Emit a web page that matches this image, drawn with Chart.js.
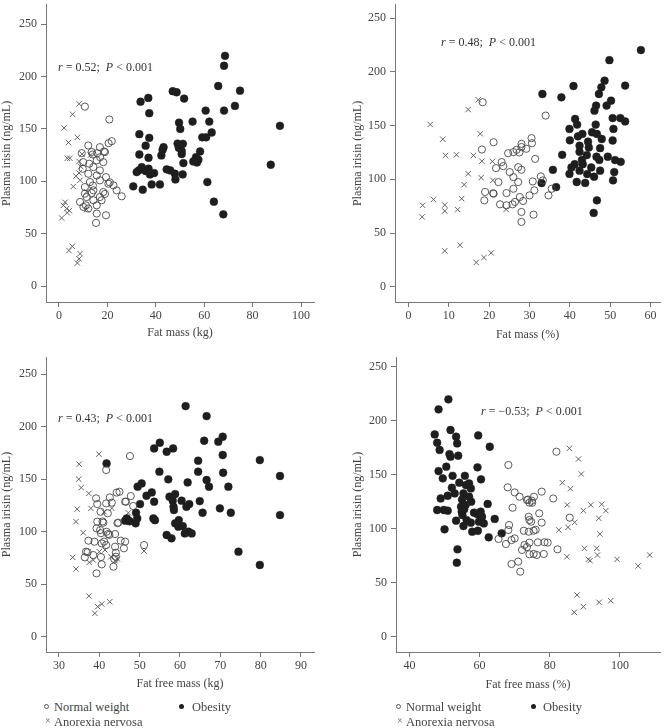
<!DOCTYPE html>
<html>
<head>
<meta charset="utf-8">
<script src="https://cdn.jsdelivr.net/npm/chart.js@4.4.1/dist/chart.umd.min.js"></script>
<style>
    body { margin: 0; background: #fff; }
    #page { position: relative; width: 665px; height: 728px; overflow: hidden; font-family: 'Liberation Serif', 'DejaVu Serif', serif; color: #444; }
    canvas { position: absolute; }
    .note { position: absolute; font-size: 12px; line-height: 14px; white-space: nowrap; color: #333; }
    .legend-item { position: absolute; font-size: 12.5px; line-height: 14px; white-space: nowrap; color: #444; }
    .mk { position: absolute; top: 4px; width: 5px; height: 5px; border-radius: 50%; box-sizing: border-box; }
    .mk-open { border: 1px solid #555; }
    .mk-fill { background: #222; }
    .mk-x { position: absolute; top: -1px; font-size: 10px; color: #555; }
</style>
</head>
<body>
<div id="page">
    <canvas id="c1" width="332" height="340" style="left:0;top:0"></canvas>
    <canvas id="c2" width="314" height="342" style="left:351px;top:0"></canvas>
    <canvas id="c3" width="332" height="361" style="left:0;top:330px"></canvas>
    <canvas id="c4" width="314" height="362" style="left:351px;top:330px"></canvas>

    <div class="note" style="left:58px;top:60px"><i>r</i> = 0.52;&nbsp; <i>P</i> &lt; 0.001</div>
    <div class="note" style="left:441px;top:35px"><i>r</i> = 0.48;&nbsp; <i>P</i> &lt; 0.001</div>
    <div class="note" style="left:58px;top:411px"><i>r</i> = 0.43;&nbsp; <i>P</i> &lt; 0.001</div>
    <div class="note" style="left:481px;top:404px"><i>r</i> = &minus;0.53;&nbsp; <i>P</i> &lt; 0.001</div>

    <div class="legend-item" style="left:44px;top:700px"><span class="mk mk-open" style="left:0"></span><span style="margin-left:10px">Normal weight</span></div>
    <div class="legend-item" style="left:179px;top:700px"><span class="mk mk-fill" style="left:0"></span><span style="margin-left:13px">Obesity</span></div>
    <div class="legend-item" style="left:44px;top:715px"><span class="mk-x" style="left:1px">×</span><span style="margin-left:10px">Anorexia nervosa</span></div>

    <div class="legend-item" style="left:396px;top:700px"><span class="mk mk-open" style="left:0"></span><span style="margin-left:10px">Normal weight</span></div>
    <div class="legend-item" style="left:531px;top:700px"><span class="mk mk-fill" style="left:0"></span><span style="margin-left:12px">Obesity</span></div>
    <div class="legend-item" style="left:396px;top:715px"><span class="mk-x" style="left:1px">×</span><span style="margin-left:10px">Anorexia nervosa</span></div>
</div>

<script>
// 데이터 (x, 혈장 irisin ng/mL)

// 1) Fat mass (kg)
const fatKgNormal = [[10.7,171.3],[20.8,159],[21.8,138.3],[12.1,134.2],[16.9,132.6],[13.9,125.6],[18.6,128.5],[15.8,126.9],[9.4,126.9],[20.5,136.4],[19,127.9],[10,118.3],[12.5,116.8],[15.6,120],[18.3,118.3],[14.2,113.6],[16.9,110.4],[9.8,112],[12.1,107.2],[15.6,105.6],[19.4,104],[12.8,99.3],[16.9,100.9],[20.4,97.7],[22.5,96.1],[10.7,94.5],[14.2,91.4],[23.8,91.4],[25.9,85.7],[10.7,88.2],[13.5,88.8],[18.3,89.8],[16.9,85],[19,88],[11.4,85],[8.7,80.3],[14.2,81.9],[17.6,81.9],[11.1,77.1],[15.6,77.1],[10.1,75.5],[12.1,74],[15.6,69.2],[19.4,67.6],[15.3,60.3],[13.5,128],[17,123],[21,99],[14,96]];
const fatKgObesity = [[68.6,219.8],[68.2,210.3],[65.8,191],[74.8,186.5],[47,186],[48.6,185],[51.7,179],[36.9,179.6],[33.7,176],[72.7,172],[68.2,167.5],[60.6,167.5],[37.3,165],[55.2,157],[49.6,156],[62.1,157],[91.3,153],[50.1,150],[59.2,142],[33.2,145],[37.3,141.5],[63.1,146.6],[35.8,134],[43.2,132.6],[42.8,130],[49,136],[51.2,135.8],[50.7,129],[58.3,128.5],[33.2,125.6],[37,122.5],[42.3,124.7],[50.7,126],[56.6,123],[57.6,120.6],[55.5,119],[51.4,117.4],[87.5,115.8],[32.1,108.8],[34.2,113.6],[35.8,109.8],[33,110.5],[37,112],[37.6,106.6],[39.3,107.9],[44.5,111.4],[46,110.4],[47.9,107.2],[51.1,106.6],[48.1,101.8],[61.3,99.3],[30.7,95.2],[38.3,97],[41.7,97],[34.6,92],[64,80.6],[67.9,68.5],[60.8,142],[49.5,132],[57,118]];
const fatKgAnorexia = [[8.3,174],[5.6,164],[2.1,151],[7.6,142],[3.9,137],[3.4,122],[4.5,122],[8.3,119],[9,114],[8.3,108],[7,105],[8.7,101],[5.9,95],[2.5,80],[1.8,77],[3.2,74],[4.3,72],[1.1,65],[11.4,73],[11.4,90],[5.5,38],[4.1,34],[8.7,31],[8.3,26],[7.6,22],[3.4,70],[9.5,126],[13,125]];

// 2) Fat mass (%)
const fatPctNormal = [[18.4,171.7],[34,159.3],[18.2,127.7],[21.1,134.5],[30.5,138.3],[28,130],[26.8,127.4],[26,125.3],[24.7,124.3],[29.2,128.4],[30.6,133.6],[28,133],[23.1,116],[23.5,112.3],[31.4,119],[21.7,110.4],[27.2,111.3],[28,108.9],[25.1,106.7],[26,102],[22.3,97.4],[32.8,102.7],[27.2,97.4],[30.8,98],[33.3,99],[35.5,91.2],[34.7,85],[26,91.2],[24.3,87.2],[31.2,89.7],[19,88.2],[21.1,86.6],[30,85],[27.6,83.5],[18.8,80.4],[28.4,79.8],[22.7,76.7],[24.3,75.8],[25.8,76.7],[26.4,78.9],[28,69.6],[31,67.1],[28,60.3],[27.5,125],[21,87]];
const fatPctObesity = [[57.6,220.3],[49.8,210.9],[53.7,187.2],[48.6,191.8],[47.8,185.6],[47.2,179.4],[33.2,179.4],[40.9,186.8],[37.9,176.3],[50.2,173.2],[49.1,168.6],[46.5,168.6],[46.1,163.9],[41.3,156.2],[50.6,157],[52.5,157],[53.7,153.9],[41.8,150.9],[46.4,150.9],[39.9,146.9],[50.8,146.9],[43.1,142.2],[45.5,143.8],[46.7,142.2],[47.9,137.5],[50.6,136.1],[40,136.3],[42.4,131.2],[44.7,129.6],[47.5,129],[42.4,125.6],[44.2,122.5],[46.6,121],[38.1,122.8],[49.4,121],[51.2,117.9],[52.6,116.3],[41.2,114.1],[43.2,114.1],[45.3,111],[47.3,118],[47.5,108],[40.4,111],[42.4,108],[44.3,104.9],[46,102.4],[51,106.7],[35.8,108.8],[39.9,105],[41.7,97.5],[43.8,96.6],[50.7,99],[36.6,92.8],[33,96.5],[46.7,80.4],[45.9,68.7],[43,118],[44.5,135],[42,140]];
const fatPctAnorexia = [[17.3,174],[14.8,164.9],[5.4,151],[8.5,137.3],[17.8,142.3],[9.2,122.2],[11.9,122.8],[16.1,122.2],[18.2,116.9],[20.8,116.6],[14.8,105.2],[18,101.5],[20.9,99],[13.8,95],[13.2,82],[6.2,81.3],[3.5,75.8],[9,76],[9,70.5],[12.2,71.8],[3.4,65],[24.2,72],[9,33.4],[12.8,38.7],[20.5,31.5],[18.7,27.2],[16.8,22.6]];

// 3) Fat free mass (kg)
const ffmKgNormal = [[47.6,172.1],[41.7,158.8],[45,138.1],[47.8,134],[42.6,132.7],[39.2,131.8],[39.5,126.4],[41.7,127],[43.1,127.7],[46.6,128.6],[48.4,124.5],[40.3,119],[42.1,117.6],[44.7,108.6],[39.5,109.6],[41,108.6],[39.3,103.2],[40.2,101.6],[41.8,100],[42.2,97.8],[43.9,97.8],[45.3,91.5],[37.3,91.5],[38.8,90.5],[40.6,88.9],[41.7,87.3],[43.9,85.7],[46.1,84.2],[36.7,81],[44.1,80],[36.4,75.6],[38.5,77.8],[44.1,76.2],[40.6,68.9],[43.5,66.7],[39.3,60.3],[51.1,87.3],[40.4,98.6],[42.5,97],[46.4,90.6],[41.2,90.6],[40.8,109.8],[44.5,108.2],[37.1,80.5],[40.4,75.9],[43.7,74],[44.3,137.3],[46.4,128.7]];
const ffmKgObesity = [[61.4,219.7],[66.6,210.2],[55,184.8],[53.6,179.4],[58.3,179.4],[56.7,176.2],[66,186.7],[69.5,185.8],[70.6,190.5],[70.6,173.1],[79.8,168.3],[41.8,165.1],[64.5,167.7],[54.9,157.2],[57.1,149.9],[64.5,157.2],[70.7,156.2],[66.6,149.3],[84.8,153.1],[61.9,147],[67.2,142.9],[72,142.9],[49.5,142.9],[50.5,146],[53,137.5],[51.7,134.3],[53.6,128.6],[50.1,126.4],[57.4,133.4],[58.8,135.9],[58.2,129.6],[58.4,123.8],[58.5,120.7],[60.4,129.6],[62.3,126.4],[61.6,123.8],[64.9,129.2],[65.6,118.1],[69.9,122.3],[72.6,118.1],[84.8,115.9],[49.1,118.1],[49.4,112.7],[49,108],[46.8,112.7],[46.4,110.5],[53.4,112.7],[59.7,111.1],[58.8,108],[59.6,104.8],[60.7,105.4],[61.2,98.4],[62.1,100],[57.9,93.7],[56.7,96.9],[62.9,98.4],[74.5,81],[79.8,68.3],[47.5,110],[53.8,111]];
const ffmKgAnorexia = [[39.9,174],[35,164.4],[34.9,150.1],[35.5,142],[37.4,136.5],[34.5,121.6],[37.9,122.3],[34.2,109.6],[36,99.1],[43.1,122.3],[41.2,119],[33.4,75.6],[34.2,64.5],[37.5,70.8],[38.5,73],[40,81],[42.9,76.2],[43.9,72.4],[51.1,81.6],[47.2,118],[37.4,38.7],[42.6,33.3],[40.6,31.1],[39.6,28.6],[38.9,22.2],[41.4,82.6],[44.5,74]];

// 4) Fat free mass (%)
const ffmPctNormal = [[81.9,171.3],[68.2,159],[68,138.3],[70,133.6],[71.4,129.6],[69.4,119.4],[74.2,124.1],[73.5,126.5],[74.9,125.9],[77.7,134.3],[75.5,129.6],[81,128],[85.7,110.2],[77,114.2],[77.7,105.6],[74,111.1],[74.2,108],[74.7,106.5],[68.4,103.4],[68.2,98.8],[70,91],[69.1,89.5],[72.6,98.1],[74,97.2],[75.4,98.1],[67.5,85.8],[72.8,84.9],[74.2,87.1],[76.6,87.4],[78.5,87.4],[79.4,87.1],[72.1,80.3],[82.2,80.9],[74.2,76.3],[75.4,76.6],[76.3,75.6],[78.3,76.6],[69.1,67.3],[71,69.5],[71.6,60.2],[65.4,90.5],[73.8,127],[75,124],[73.5,83],[76,99]];
const ffmPctObesity = [[51.1,219.8],[48.3,210.5],[47.2,187.3],[47.9,179.6],[48.6,172.9],[59.6,186.4],[62.9,175.9],[51.7,191.4],[53.3,185.2],[53.6,179],[51.7,166.7],[51.4,169.1],[53.9,167.6],[50.5,157.4],[48.3,153.4],[59.4,156.8],[49.5,146.6],[52.3,149],[55.8,149],[60.4,145.7],[52.1,137.9],[52.9,132.7],[54.2,142.6],[56.1,140.4],[57,141.9],[57.5,137.3],[55.4,132.7],[57,129.6],[57.6,125],[50.9,130.5],[48.9,128],[62.3,122.9],[54.7,120.4],[54.9,115.7],[55.6,117.9],[55.1,112.6],[49.8,117.3],[50.9,116.7],[47.9,117.3],[58.4,114.8],[59.3,113.6],[60.3,115.7],[60.7,111.1],[59.8,106.5],[53.3,107.4],[56.3,108],[57.5,105.6],[61.2,104.9],[64.3,109],[50,99.4],[55.4,102.5],[57.9,97.2],[59.5,98.1],[62.6,92],[66.3,95.7],[53.7,80.9],[53.5,68.5],[56,122],[55,127]];
const ffmPctAnorexia = [[85.6,174.4],[88.2,164.5],[89,150.6],[83.6,142.6],[85.9,137],[85,122],[91.7,122],[94.8,122.6],[96,116.7],[89.6,116.7],[94,109.6],[87.1,105.9],[85.2,101.3],[82.6,98.8],[94.3,95.1],[89.9,81.8],[93.4,81.8],[91,71.6],[91.5,70.4],[93.6,75.6],[84.9,74],[99.2,71.6],[105.2,65.5],[108.5,75.6],[87.8,38.6],[87,22.6],[89.6,27.8],[94.1,31.8],[97.4,33.3]];

const yTitle = 'Plasma irisin (ng/mL)';
const axisColor = '#777';
const textColor = '#444';

Chart.defaults.font.family = "'Liberation Serif', 'DejaVu Serif', serif";
Chart.defaults.font.size = 12;
Chart.defaults.color = textColor;

const toPoints = arr => arr.map(p => ({ x: p[0], y: p[1] }));

function makePanel(id, cfg) {
    const datasets = [
        {
            label: 'Normal weight',
            data: toPoints(cfg.normal),
            pointStyle: 'circle',
            pointRadius: 3.6,
            backgroundColor: 'rgba(0,0,0,0)',
            borderColor: '#4a4a4a',
            borderWidth: 0.9,
        },
        {
            label: 'Obesity',
            data: toPoints(cfg.obesity),
            pointStyle: 'circle',
            pointRadius: 3.9,
            backgroundColor: '#1e1e1e',
            borderColor: '#1e1e1e',
            borderWidth: 0.5,
        },
        {
            label: 'Anorexia nervosa',
            data: toPoints(cfg.anorexia),
            pointStyle: 'crossRot',
            pointRadius: 3.8,
            borderColor: '#555',
            borderWidth: 0.9,
        },
    ];

    new Chart(document.getElementById(id).getContext('2d'), {
        type: 'scatter',
        data: { datasets },
        options: {
            responsive: false,
            animation: false,
            events: [],
            layout: { padding: { top: cfg.padTop, right: cfg.padRight, left: 0, bottom: 0 } },
            plugins: { legend: { display: false }, tooltip: { enabled: false } },
            scales: {
                x: {
                    type: 'linear',
                    min: cfg.xMin,
                    max: cfg.xMax,
                    border: { display: true, color: axisColor, width: 1 },
                    grid: { drawOnChartArea: false, drawTicks: true, tickLength: 5, color: axisColor },
                    ticks: { stepSize: cfg.xStep, includeBounds: false, padding: 2, color: textColor },
                    title: { display: true, text: cfg.xTitle, color: textColor, padding: 0, font: { size: 12 } },
                    afterFit(scale) {
                        scale.height = cfg.xHeight;
                        scale.paddingLeft = 0;
                        scale.paddingRight = 0;
                    },
                },
                y: {
                    type: 'linear',
                    min: cfg.yMin,
                    max: cfg.yMax,
                    border: { display: true, color: axisColor, width: 1 },
                    grid: { drawOnChartArea: false, drawTicks: true, tickLength: 5, color: axisColor },
                    ticks: { stepSize: 50, includeBounds: false, padding: 4, color: textColor },
                    title: { display: true, text: yTitle, color: textColor, padding: 0, font: { size: 12 } },
                    afterFit(scale) {
                        scale.width = cfg.yWidth;
                        scale.paddingTop = 0;
                        scale.paddingBottom = 0;
                    },
                },
            },
        },
    });
}

makePanel('c1', {
    normal: fatKgNormal, obesity: fatKgObesity, anorexia: fatKgAnorexia,
    xTitle: 'Fat mass (kg)', xMin: -5.37, xMax: 105.37, xStep: 20,
    yMin: -15.2, yMax: 268.4,
    padTop: 4, padRight: 18, yWidth: 46, xHeight: 38,
});

makePanel('c2', {
    normal: fatPctNormal, obesity: fatPctObesity, anorexia: fatPctAnorexia,
    xTitle: 'Fat mass (%)', xMin: -3.33, xMax: 62.36, xStep: 10,
    yMin: -14.2, yMax: 262.3,
    padTop: 4, padRight: 0, yWidth: 44, xHeight: 40,
});

makePanel('c3', {
    normal: ffmKgNormal, obesity: ffmKgObesity, anorexia: ffmKgAnorexia,
    xTitle: 'Fat free mass (kg)', xMin: 26.78, xMax: 93.23, xStep: 10,
    yMin: -14.6, yMax: 266.5,
    padTop: 27, padRight: 18, yWidth: 46, xHeight: 39,
});

makePanel('c4', {
    normal: ffmPctNormal, obesity: ffmPctObesity, anorexia: ffmPctAnorexia,
    xTitle: 'Fat free mass (%)', xMin: 36.16, xMax: 111.47, xStep: 20,
    yMin: -14.2, yMax: 259,
    padTop: 27, padRight: 0, yWidth: 45, xHeight: 40,
});
</script>
</body>
</html>
